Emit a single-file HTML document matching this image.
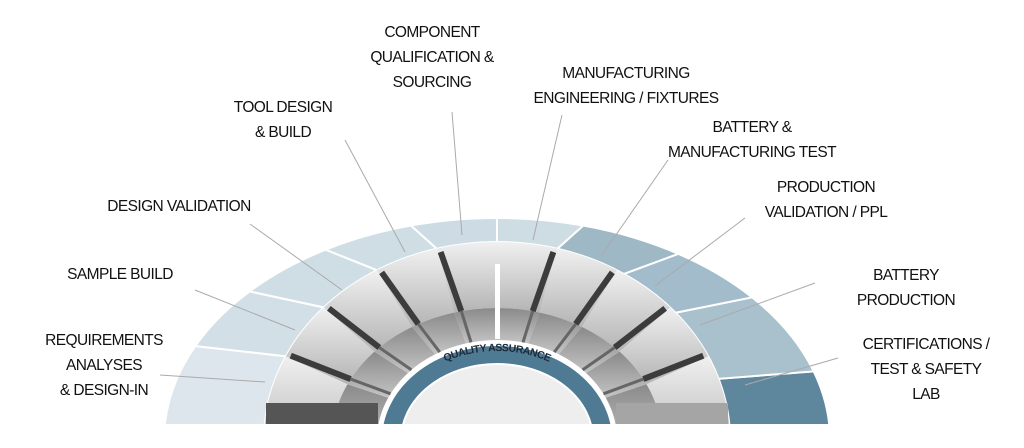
<!DOCTYPE html>
<html><head><meta charset="utf-8"><style>
html,body{margin:0;padding:0;background:#fff;width:1024px;height:448px;overflow:hidden;}
#w{position:relative;width:1024px;height:448px;overflow:hidden;background:#fff;}
.t{position:absolute;font-family:"Liberation Sans",Arial,sans-serif;font-size:15.5px;color:#111;text-align:center;line-height:25px;white-space:nowrap;transform:translateX(-50%);letter-spacing:-0.6px}
svg{position:absolute;left:0;top:0}
</style></head><body><div id="w">
<svg id="s" width="1024" height="448" viewBox="0 0 1024 448">
<defs>
<linearGradient id="face" x1="0" y1="0" x2="0" y2="1"><stop offset="0" stop-color="#f0f0f0"/><stop offset="1" stop-color="#b4b4b4"/></linearGradient>
<linearGradient id="side" x1="0" y1="0" x2="0" y2="1"><stop offset="0" stop-color="#8a8a8a"/><stop offset="1" stop-color="#c4c4c4"/></linearGradient>
<path id="qa" d="M 388 440 A 109 89 0 0 1 606 440"/>
</defs>
<g id="g"></g>
<text font-family="Liberation Sans, Arial, sans-serif" font-size="10.5" font-weight="bold" fill="#1d2a38" letter-spacing="-0.5"><textPath href="#qa" startOffset="50%" text-anchor="middle">QUALITY ASSURANCE</textPath></text>
<rect x="0" y="424" width="1024" height="24" fill="#fff"/>
<g stroke="#aaa" stroke-width="1">
<line x1="452" y1="112" x2="462" y2="235"/>
<line x1="345" y1="140" x2="405" y2="252"/>
<line x1="250" y1="224" x2="342" y2="290"/>
<line x1="195" y1="290" x2="295" y2="330"/>
<line x1="160" y1="375" x2="265" y2="382"/>
<line x1="562" y1="115" x2="533" y2="240"/>
<line x1="668" y1="160" x2="602" y2="255"/>
<line x1="745" y1="218" x2="655" y2="286"/>
<line x1="815" y1="283" x2="700" y2="325"/>
<line x1="838" y1="358" x2="745" y2="385"/>
</g>
</svg>
<div class="t" style="left:432px;top:20px">COMPONENT<br>QUALIFICATION &amp;<br>SOURCING</div>
<div class="t" style="left:626px;top:61px">MANUFACTURING<br>ENGINEERING / FIXTURES</div>
<div class="t" style="left:752px;top:115px">BATTERY &amp;<br>MANUFACTURING TEST</div>
<div class="t" style="left:826px;top:175px">PRODUCTION<br>VALIDATION / PPL</div>
<div class="t" style="left:906px;top:263px">BATTERY<br>PRODUCTION</div>
<div class="t" style="left:926px;top:332px">CERTIFICATIONS /<br>TEST &amp; SAFETY<br>LAB</div>
<div class="t" style="left:283px;top:95px">TOOL DESIGN<br>&amp; BUILD</div>
<div class="t" style="left:179px;top:194px">DESIGN VALIDATION</div>
<div class="t" style="left:120px;top:262px">SAMPLE BUILD</div>
<div class="t" style="left:104px;top:328px">REQUIREMENTS<br>ANALYSES<br>&amp; DESIGN-IN</div>
</div>
<script>
(function(){
var cx=497,cy=440,g=document.getElementById('g'),ns='http://www.w3.org/2000/svg';
function P(rx,ry,a){var r=a*Math.PI/180;return [cx+rx*Math.cos(r),cy-ry*Math.sin(r)];}
function sector(R1,R2,a1,a2,fill,stroke){
 var p1=P(R1[0],R1[1],a1),p2=P(R1[0],R1[1],a2),p3=P(R2[0],R2[1],a2),p4=P(R2[0],R2[1],a1);
 var d='M'+p1+' A'+R1[0]+' '+R1[1]+' 0 0 0 '+p2+' L'+p3+' A'+R2[0]+' '+R2[1]+' 0 0 1 '+p4+'Z';
 var e=document.createElementNS(ns,'path');e.setAttribute('d',d);e.setAttribute('fill',fill);
 if(stroke){e.setAttribute('stroke',stroke);e.setAttribute('stroke-width','2');}
 g.appendChild(e);}
function line(a,b,c,w){var e=document.createElementNS(ns,'line');e.setAttribute('x1',a[0]);e.setAttribute('y1',a[1]);e.setAttribute('x2',b[0]);e.setAttribute('y2',b[1]);e.setAttribute('stroke',c);e.setAttribute('stroke-width',w);g.appendChild(e);}
var O=[333,222],I=[233,198];
var segs=[[-5,18,'#5e869d'],[18,40,'#a9c0cd'],[40,57,'#a3bccb'],[57,75,'#9fb8c6'],[75,90,'#cedce4'],[90,105,'#cddbe4'],[105,121,'#cfdde5'],[121,138,'#cfdde5'],[138,155,'#d3dfe7'],[155,185,'#dde6ec']];
segs.forEach(function(s){sector(O,I,s[0],s[1],s[2],'#fff');});
var b=[185,155,138,121,105,90,75,59,42,25,-5];
var F=[165,132],N=[120,100];
for(var i=0;i<10;i++){
 var a1=b[i+1],a2=b[i];
 sector(I,F,a1,a2,'url(#face)');
 sector(F,N,a1,a2,'url(#side)');
}
var r=document.createElementNS(ns,'rect');r.setAttribute('x',266);r.setAttribute('y',403);r.setAttribute('width',112);r.setAttribute('height',21);r.setAttribute('fill','#555');g.appendChild(r);
r=document.createElementNS(ns,'rect');r.setAttribute('x',616);r.setAttribute('y',403);r.setAttribute('width',112);r.setAttribute('height',21);r.setAttribute('fill','#a5a5a5');g.appendChild(r);
for(var i=1;i<10;i++){
 var a=b[i];if(a==90)continue;
 var off=a>90?-2.5:2.5;
 line(P(I[0]-4,I[1]-4,a+off*0.3),P(F[0],F[1],a+off),'#3c3c3c',6);
 line(P(F[0],F[1],a+off),P(N[0],N[1],a+off),'#666',3);
}
var c=document.createElementNS(ns,'rect');c.setAttribute('x',495);c.setAttribute('y',264);c.setAttribute('width',5);c.setAttribute('height',75);c.setAttribute('fill','#fff');g.appendChild(c);
var e=document.createElementNS(ns,'ellipse');e.setAttribute('cx',cx);e.setAttribute('cy',cy);e.setAttribute('rx',116);e.setAttribute('ry',95);e.setAttribute('fill','#4f7a94');e.setAttribute('stroke','#fff');e.setAttribute('stroke-width','2');g.appendChild(e);
e=document.createElementNS(ns,'ellipse');e.setAttribute('cx',cx);e.setAttribute('cy',cy);e.setAttribute('rx',96);e.setAttribute('ry',76);e.setAttribute('fill','#eeeeee');e.setAttribute('stroke','#fff');e.setAttribute('stroke-width','2');g.appendChild(e);
})();
</script>
</body></html>
